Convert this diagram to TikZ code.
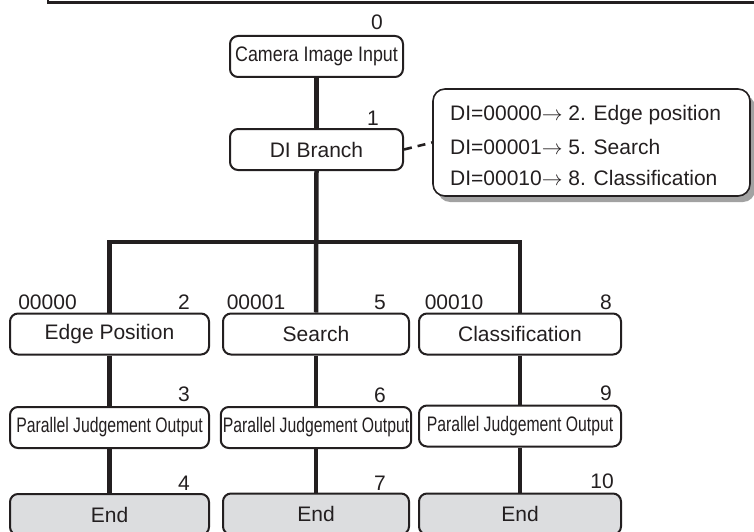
\documentclass[tikz,border=0pt]{standalone}
\usepackage{fontspec}
\usepackage{graphicx}
\setmainfont{Liberation Sans}
\usetikzlibrary{shadows}

\definecolor{ink}{HTML}{231F20}
\definecolor{endfill}{HTML}{DCDDDF}
\definecolor{shade}{HTML}{A2A2A2}

% horizontally condensed text
\newcommand{\narrow}[2]{\scalebox{#1}[1]{#2}}

\tikzset{
  txt/.style={font=\fontsize{21}{25}\selectfont, text=ink, inner sep=0pt},
  stepbox/.style={txt, draw=ink, line width=2pt, rounded corners=8pt,
    fill=white, inner sep=2pt, minimum height=41pt},
  endbox/.style={stepbox, fill=endfill},
  conn/.style={draw=ink, line width=4.5pt},
  link/.style={draw=ink, line width=2.6pt, dash pattern=on 8pt off 6pt},
  notebox/.style={draw=ink, line width=1.6pt, rounded corners=12pt, fill=white,
    drop shadow={shadow xshift=5pt, shadow yshift=-6pt, fill=shade, opacity=1}},
  num/.style={txt}
}

\begin{document}
\begin{tikzpicture}[x=1pt, y=-1pt]
  \useasboundingbox (0,0) rectangle (754,532);

  % lower edge of the frame above
  \draw[ink, line width=2.5pt] (48,-10) -- (48,2.5) -- (780,2.5);

  % main flow
  \node[stepbox, minimum width=173pt] (cam) at (316.5,56.5) {\narrow{0.85}{Camera Image Input}};
  \node[num] (n0) at (377,22) {0};

  \node[stepbox, minimum width=173pt] (di) at (316.5,149.5) {DI Branch};
  \node[num] (n1) at (373,118) {1};

  % branch table
  \node[notebox, minimum width=317pt, minimum height=107pt] (note) at (591.5,142.5) {};
  \node[txt, anchor=west] (t1) at (450,115) {DI=00000$\rightarrow$ 2. Edge position};
  \node[txt, anchor=west] (t2) at (450,147) {DI=00001$\rightarrow$ 5. Search};
  \node[txt, anchor=west] (t3) at (450,178) {DI=00010$\rightarrow$ 8. Classification};

  % branch steps
  \node[stepbox, minimum width=199pt] (e1) at (109.5,334) {Edge Position};
  \node[stepbox, minimum width=186pt] (s1) at (316,334) {Search};
  \node[stepbox, minimum width=202pt] (c1) at (520,334) {Classification};

  \node[num] (b1) at (47.5,302) {00000};
  \node[num] (n2) at (184,302) {2};
  \node[num] (b2) at (256,302) {00001};
  \node[num] (n5) at (380,302) {5};
  \node[num] (b3) at (454,302) {00010};
  \node[num] (n8) at (606,302) {8};

  \node[stepbox, minimum width=199pt] (e2) at (109.5,427.5) {\narrow{0.75}{Parallel Judgement Output}};
  \node[stepbox, minimum width=186pt] (s2) at (316,427.5) {\narrow{0.75}{Parallel Judgement Output}};
  \node[stepbox, minimum width=202pt] (c2) at (520,426) {\narrow{0.75}{Parallel Judgement Output}};

  \node[num] (n3) at (184,394.5) {3};
  \node[num] (n6) at (380,395) {6};
  \node[num] (n9) at (606,393) {9};

  \node[endbox, minimum width=199pt, minimum height=41pt] (e3) at (109.5,514.5) {End};
  \node[endbox, minimum width=186pt, minimum height=41pt] (s3) at (316,514) {End};
  \node[endbox, minimum width=202pt, minimum height=41pt] (c3) at (520,514) {End};

  \node[num] (n4) at (184,483) {4};
  \node[num] (n7) at (380,483) {7};
  \node[num] (n10) at (602,481) {10};

  \coordinate (bus) at (0,242);

  % connectors
  \path[conn] (cam.south) -- (di.north);
  \path[conn] (di.south) -- (s1.north);
  \path[conn] (e1.north) -- (e1.north |- bus) -- (c1.north |- bus) -- (c1.north);
  \path[conn] (e1.south) -- (e2.north);
  \path[conn] (s1.south) -- (s2.north);
  \path[conn] (c1.south) -- (c2.north);
  \path[conn] (e2.south) -- (e3.north);
  \path[conn] (s2.south) -- (s3.north);
  \path[conn] (c2.south) -- (c3.north);
  \path[link] (di.east) -- (note.west);
\end{tikzpicture}
\end{document}
